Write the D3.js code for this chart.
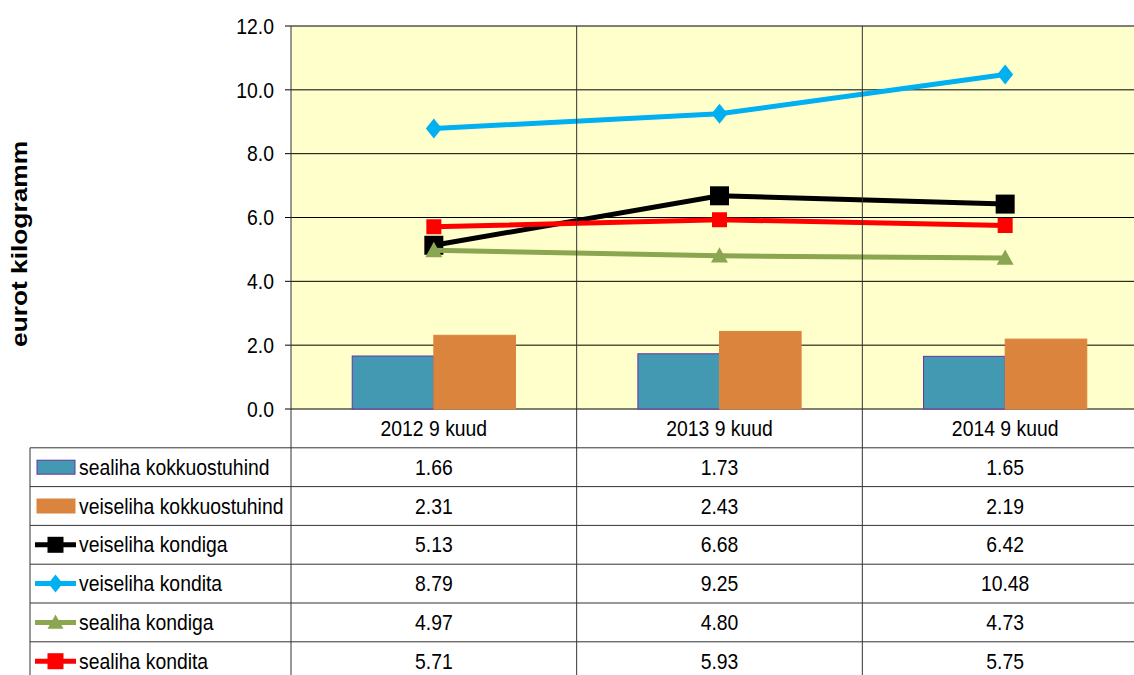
<!DOCTYPE html>
<html>
<head>
<meta charset="utf-8">
<script src="https://cdn.jsdelivr.net/npm/d3@7"></script>
<style>
  body { margin: 0; background: #fff; overflow: hidden; }
  svg { display: block; font-family: "Liberation Sans", Arial, sans-serif; }
</style>
</head>
<body>
<div id="chart"></div>
<script>
const categories = ["2012 9 kuud", "2013 9 kuud", "2014 9 kuud"];
const yTicks = [0, 2, 4, 6, 8, 10, 12];

const barSeries = [
    { name: "sealiha kokkuostuhind", color: "#4399B1", stroke: "#7030A0", values: [1.66, 1.73, 1.65] },
    { name: "veiseliha kokkuostuhind", color: "#DB843D", stroke: "#DB843D", values: [2.31, 2.43, 2.19] }
];
const lineSeries = [
    { name: "veiseliha kondiga", color: "#000000", marker: "square", size: 19, values: [5.13, 6.68, 6.42] },
    { name: "veiseliha kondita", color: "#00B0F0", marker: "diamond", size: 20, values: [8.79, 9.25, 10.48] },
    { name: "sealiha kondiga", color: "#8BA650", marker: "triangle", size: 17, values: [4.97, 4.80, 4.73] },
    { name: "sealiha kondita", color: "#FF0000", marker: "square", size: 15, values: [5.71, 5.93, 5.75] }
];

const width = 1134, height = 675;
const plotLeft = 291, plotRight = 1148, plotTop = 26, plotBottom = 409;
const tableLeft = 30, rowH = 38.8;
const fontSize = 22;

const svg = d3.select("#chart").append("svg")
    .attr("width", width)
    .attr("height", height);

const x = d3.scaleBand().domain(categories).range([plotLeft, plotRight]);
const y = d3.scaleLinear().domain([0, 12]).range([plotBottom, plotTop]);
const xBar = d3.scaleBand().domain(barSeries.map(d => d.name))
    .range([0, x.bandwidth()]).paddingOuter(0.75).paddingInner(0);

// the original text is a bit condensed
const k = 0.88;
const squeeze = xPos => `translate(${xPos * (1 - k)},0) scale(${k},1)`;

// plot background
svg.append("rect")
    .attr("x", plotLeft).attr("y", plotTop)
    .attr("width", plotRight - plotLeft).attr("height", plotBottom - plotTop)
    .attr("fill", "#FFFFCC");

// horizontal gridlines
svg.append("g").selectAll("line")
    .data(yTicks)
    .join("line")
    .attr("x1", plotLeft - 6).attr("x2", plotRight)
    .attr("y1", d => y(d)).attr("y2", d => y(d))
    .attr("stroke", "#000").attr("stroke-width", 1);

// y tick labels
svg.append("g").selectAll("text")
    .data(yTicks)
    .join("text")
    .attr("x", plotLeft - 17).attr("y", d => y(d))
    .attr("dy", "0.35em")
    .attr("text-anchor", "end")
    .attr("font-size", fontSize)
    .attr("transform", squeeze(plotLeft - 17))
    .text(d => d.toFixed(1));

// y axis title
svg.append("text")
    .attr("transform", "translate(27,244) rotate(-90)")
    .attr("text-anchor", "middle")
    .attr("font-size", 22)
    .attr("font-weight", "bold")
    .attr("textLength", 206)
    .attr("lengthAdjust", "spacingAndGlyphs")
    .text("eurot kilogramm");

// bars
barSeries.forEach(s => {
    svg.append("g").selectAll("rect")
        .data(s.values)
        .join("rect")
        .attr("x", (d, i) => x(categories[i]) + xBar(s.name))
        .attr("y", d => y(d))
        .attr("width", xBar.bandwidth())
        .attr("height", d => plotBottom - y(d))
        .attr("fill", s.color)
        .attr("stroke", s.stroke)
        .attr("stroke-width", 1);
});

function markerPath(type, size) {
    const h = size / 2;
    if (type === "square") return `M${-h},${-h}H${h}V${h}H${-h}Z`;
    if (type === "diamond") return `M0,${-h}L${h * 0.8},0L0,${h}L${-h * 0.8},0Z`;
    return `M0,${-h}L${h},${h * 0.8}L${-h},${h * 0.8}Z`;
}

const cx = i => x(categories[i]) + x.bandwidth() / 2;
const line = d3.line().x((d, i) => cx(i)).y(d => y(d));

lineSeries.forEach(s => {
    svg.append("path")
        .datum(s.values)
        .attr("d", line)
        .attr("fill", "none")
        .attr("stroke", s.color)
        .attr("stroke-width", 5);
    svg.append("g").selectAll("path")
        .data(s.values)
        .join("path")
        .attr("transform", (d, i) => `translate(${cx(i)},${y(d)})`)
        .attr("d", markerPath(s.marker, s.size))
        .attr("fill", s.color);
});

// data table
const allSeries = [...barSeries, ...lineSeries];
const tableTop = plotBottom + rowH;
const tg = svg.append("g");

// category header labels
tg.selectAll("text.cat")
    .data(categories)
    .join("text")
    .attr("class", "cat")
    .attr("x", d => x(d) + x.bandwidth() / 2)
    .attr("y", plotBottom + rowH / 2)
    .attr("dy", "0.35em")
    .attr("text-anchor", "middle")
    .attr("font-size", fontSize)
    .attr("transform", d => squeeze(x(d) + x.bandwidth() / 2))
    .text(d => d);

// row lines
tg.selectAll("line.row")
    .data(d3.range(allSeries.length + 1))
    .join("line")
    .attr("class", "row")
    .attr("x1", tableLeft).attr("x2", plotRight)
    .attr("y1", i => tableTop + i * rowH).attr("y2", i => tableTop + i * rowH)
    .attr("stroke", "#333").attr("stroke-width", 1);

// vertical lines
tg.append("line")
    .attr("x1", tableLeft).attr("x2", tableLeft)
    .attr("y1", tableTop).attr("y2", height)
    .attr("stroke", "#333");
tg.selectAll("line.col")
    .data(categories.map(c => x(c)).concat([plotRight]))
    .join("line")
    .attr("class", "col")
    .attr("x1", d => d).attr("x2", d => d)
    .attr("y1", plotTop).attr("y2", height)
    .attr("stroke", "#333");

allSeries.forEach((s, r) => {
    const rowY = tableTop + r * rowH + rowH / 2;
    const row = tg.append("g");
    if (barSeries.includes(s)) {
        row.append("rect")
            .attr("x", 37).attr("y", rowY - 7)
            .attr("width", 38).attr("height", 14)
            .attr("fill", s.color)
            .attr("stroke", s.stroke).attr("stroke-width", 1);
    } else {
        row.append("line")
            .attr("x1", 35).attr("x2", 76)
            .attr("y1", rowY).attr("y2", rowY)
            .attr("stroke", s.color).attr("stroke-width", 5);
        row.append("path")
            .attr("transform", `translate(55.5,${rowY})`)
            .attr("d", markerPath(s.marker, s.marker === "diamond" ? 18 : 16))
            .attr("fill", s.color);
    }
    row.append("text")
        .attr("x", 79).attr("y", rowY)
        .attr("dy", "0.35em")
        .attr("font-size", fontSize)
        .attr("transform", squeeze(79))
        .text(s.name);
    row.selectAll("text.val")
        .data(s.values)
        .join("text")
        .attr("class", "val")
        .attr("x", (d, i) => cx(i)).attr("y", rowY)
        .attr("dy", "0.35em")
        .attr("text-anchor", "middle")
        .attr("font-size", fontSize)
        .attr("transform", (d, i) => squeeze(cx(i)))
        .text(d => d.toFixed(2));
});
</script>
</body>
</html>
